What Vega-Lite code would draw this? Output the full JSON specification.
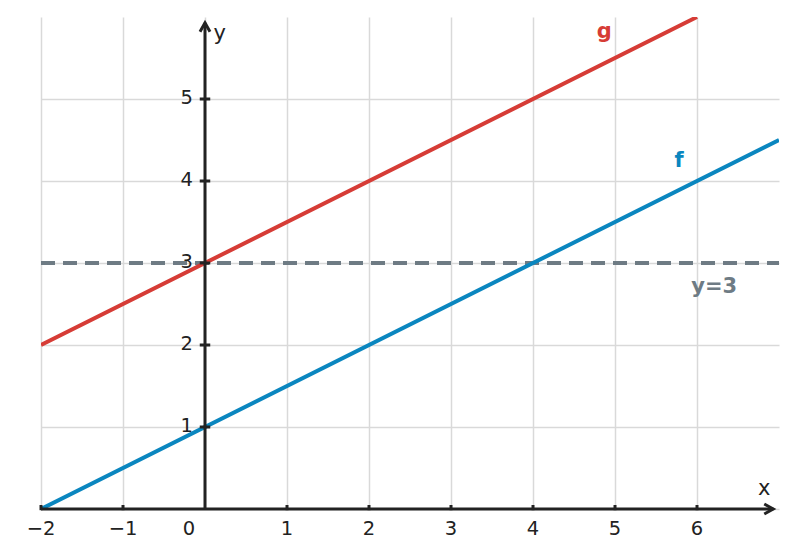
{
  "$schema": "https://vega.github.io/schema/vega-lite/v6.json",
  "width": 738,
  "height": 492,
  "autosize": {"type": "none"},
  "padding": {"left": 41, "top": 17, "right": 18, "bottom": 48},
  "background": "white",
  "config": {"view": {"stroke": null}, "font": "DejaVu Sans"},

  "datasets": {
    "lines": [
      {"fn": "g", "x": -2, "y": 2},
      {"fn": "g", "x": 6, "y": 6},
      {"fn": "f", "x": -2, "y": 0},
      {"fn": "f", "x": 7, "y": 4.5}
    ],
    "hline": [
      {"x": -2, "y": 3},
      {"x": 7, "y": 3}
    ],
    "xaxis": [{"x": -2, "x2": 6.93, "y": 0}],
    "yaxis": [{"x": 0, "y": 0, "y2": 5.93}],
    "xtip": [{"x": 6.93, "y": 0}],
    "ytip": [{"x": 0, "y": 5.93}],
    "xticks": [
      {"x": -2, "y": 0, "t": "−2"},
      {"x": -1, "y": 0, "t": "−1"},
      {"x": 1, "y": 0, "t": "1"},
      {"x": 2, "y": 0, "t": "2"},
      {"x": 3, "y": 0, "t": "3"},
      {"x": 4, "y": 0, "t": "4"},
      {"x": 5, "y": 0, "t": "5"},
      {"x": 6, "y": 0, "t": "6"}
    ],
    "origin": [{"x": 0, "y": 0, "t": "0"}],
    "yticks": [
      {"x": 0, "y": 1, "t": "1"},
      {"x": 0, "y": 2, "t": "2"},
      {"x": 0, "y": 3, "t": "3"},
      {"x": 0, "y": 4, "t": "4"},
      {"x": 0, "y": 5, "t": "5"}
    ],
    "fnlabels": [
      {"fn": "g", "t": "g", "x": 4.87, "y": 5.74},
      {"fn": "f", "t": "f", "x": 5.78, "y": 4.17},
      {"fn": "y=3", "t": "y=3", "x": 6.21, "y": 2.63}
    ],
    "axisnames": [
      {"t": "x", "x": 6.82, "y": 0.17},
      {"t": "y", "x": 0.18, "y": 5.72}
    ]
  },

  "encoding": {
    "x": {
      "field": "x",
      "type": "quantitative",
      "scale": {"domain": [-2, 7], "nice": false, "zero": false},
      "axis": {
        "values": [-2, -1, 0, 1, 2, 3, 4, 5, 6],
        "grid": true,
        "gridColor": "#d9d9d9",
        "gridWidth": 1.5,
        "domain": false,
        "ticks": false,
        "labels": false,
        "title": null
      }
    },
    "y": {
      "field": "y",
      "type": "quantitative",
      "scale": {"domain": [0, 6], "nice": false, "zero": false},
      "axis": {
        "values": [0, 1, 2, 3, 4, 5],
        "grid": true,
        "gridColor": "#d9d9d9",
        "gridWidth": 1.5,
        "domain": false,
        "ticks": false,
        "labels": false,
        "title": null
      }
    }
  },

  "layer": [
    {
      "data": {"name": "hline"},
      "mark": {"type": "line", "color": "#6e7b84", "strokeWidth": 3.8, "strokeDash": [14, 8], "clip": true}
    },
    {
      "data": {"name": "lines"},
      "mark": {"type": "line", "strokeWidth": 4, "clip": true},
      "encoding": {
        "color": {
          "field": "fn",
          "type": "nominal",
          "scale": {"domain": ["f", "g", "y=3"], "range": ["#0a86bf", "#d63c36", "#6e7b84"]},
          "legend": null
        }
      }
    },
    {
      "data": {"name": "xaxis"},
      "mark": {"type": "rule", "color": "#222222", "strokeWidth": 3},
      "encoding": {"x2": {"field": "x2"}}
    },
    {
      "data": {"name": "yaxis"},
      "mark": {"type": "rule", "color": "#222222", "strokeWidth": 3},
      "encoding": {"y2": {"field": "y2"}}
    },
    {
      "data": {"name": "xtip"},
      "mark": {"type": "point", "shape": "M-1.8,-1L0,0L-1.8,1", "size": 100, "filled": false, "opacity": 1, "color": "#222222", "strokeWidth": 3, "strokeJoin": "miter"}
    },
    {
      "data": {"name": "ytip"},
      "mark": {"type": "point", "shape": "M-1,1.8L0,0L1,1.8", "size": 100, "filled": false, "opacity": 1, "color": "#222222", "strokeWidth": 3, "strokeJoin": "miter"}
    },
    {
      "data": {"name": "xticks"},
      "mark": {"type": "point", "shape": "M0,-1L0,0.3", "size": 64, "filled": false, "opacity": 1, "color": "#222222", "strokeWidth": 3}
    },
    {
      "data": {"name": "yticks"},
      "mark": {"type": "point", "shape": "M-1,0L1,0", "size": 110, "filled": false, "opacity": 1, "color": "#222222", "strokeWidth": 3}
    },
    {
      "data": {"name": "xticks"},
      "mark": {"type": "text", "fontSize": 19.5, "color": "#222222", "align": "center", "baseline": "alphabetic", "dy": 26},
      "encoding": {"text": {"field": "t"}}
    },
    {
      "data": {"name": "origin"},
      "mark": {"type": "text", "fontSize": 19.5, "color": "#222222", "align": "center", "baseline": "alphabetic", "dy": 26, "dx": -16},
      "encoding": {"text": {"field": "t"}}
    },
    {
      "data": {"name": "yticks"},
      "mark": {"type": "text", "fontSize": 19.5, "color": "#222222", "align": "right", "baseline": "alphabetic", "dx": -12, "dy": 5},
      "encoding": {"text": {"field": "t"}}
    },
    {
      "data": {"name": "fnlabels"},
      "mark": {"type": "text", "fontSize": 21, "fontWeight": "bold", "align": "center", "baseline": "alphabetic"},
      "encoding": {
        "text": {"field": "t"},
        "color": {
          "field": "fn",
          "type": "nominal",
          "scale": {"domain": ["f", "g", "y=3"], "range": ["#0a86bf", "#d63c36", "#6e7b84"]},
          "legend": null
        }
      }
    },
    {
      "data": {"name": "axisnames"},
      "mark": {"type": "text", "fontSize": 21, "color": "#222222", "align": "center", "baseline": "alphabetic"},
      "encoding": {"text": {"field": "t"}}
    }
  ]
}
